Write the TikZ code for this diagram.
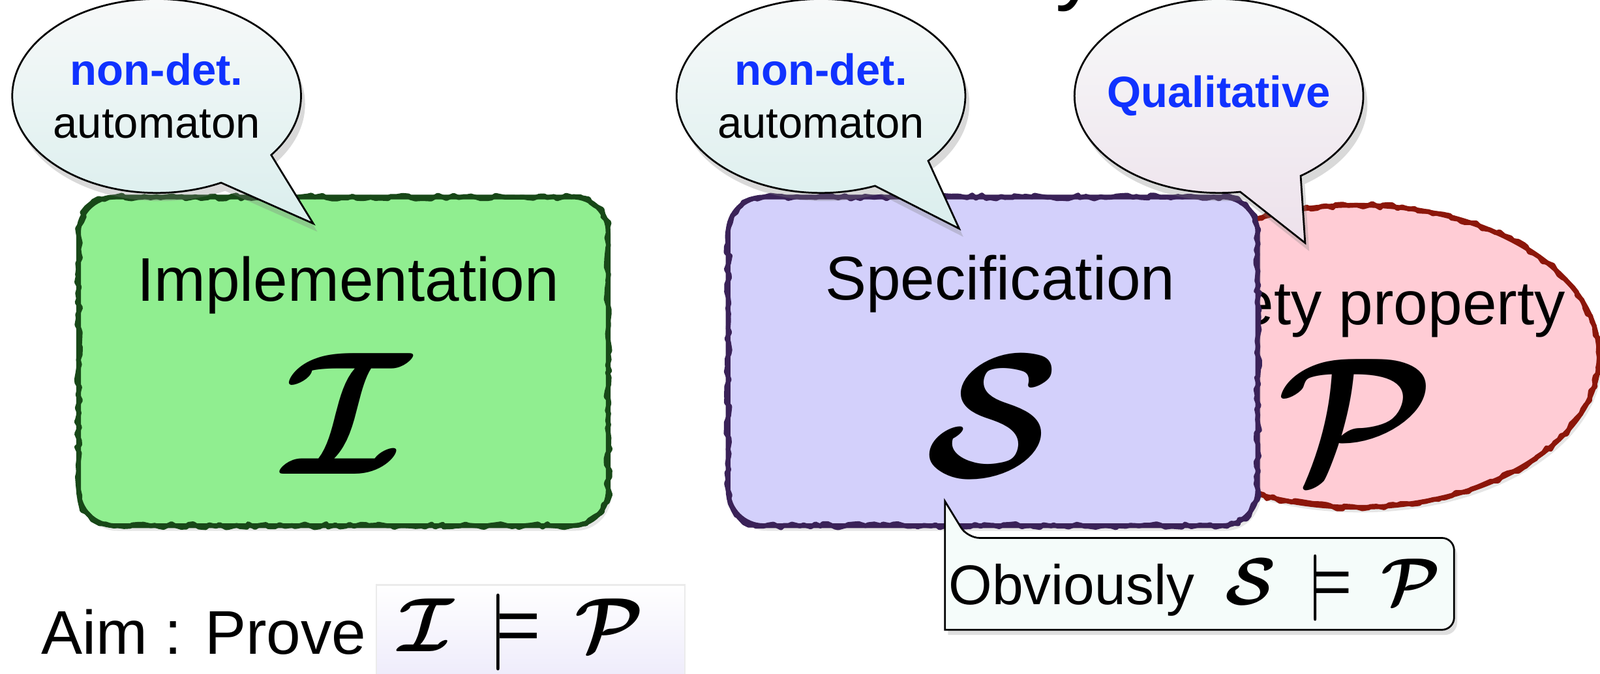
\documentclass[tikz,border=0pt]{standalone}
\usepackage{amsmath,amssymb}
\usepackage{graphicx}
\usepackage{fontspec}
\setmainfont{Liberation Sans}
\usepackage{tikz}
\usetikzlibrary{shapes.geometric,shapes.callouts,shadows,decorations.pathmorphing}
\newcommand{\bI}{\boldsymbol{\mathcal{I}}}
\newcommand{\bS}{\boldsymbol{\mathcal{S}}}
\newcommand{\bP}{\boldsymbol{\mathcal{P}}}
\definecolor{implgreen}{RGB}{144,238,144}
\definecolor{impldark}{RGB}{24,72,24}
\definecolor{speclav}{RGB}{211,208,251}
\definecolor{specdark}{RGB}{58,34,88}
\definecolor{proppink}{RGB}{255,204,213}
\definecolor{propdark}{RGB}{140,22,10}
\definecolor{noteblue}{RGB}{16,50,255}
\definecolor{bubtop}{RGB}{247,249,249}
\definecolor{bubcyan}{RGB}{218,238,237}
\definecolor{bubrose}{RGB}{237,225,235}
\definecolor{obvfill}{RGB}{245,252,250}
\definecolor{aimlav}{RGB}{235,232,250}

\begin{document}
\begin{tikzpicture}[
  rough/.style={line width=1.3pt,postaction={draw=#1,line width=1.3pt,sharp corners,line join=round,
    decorate,decoration={random steps,segment length=1.4pt,amplitude=0.6pt}}},
  bigbox/.style={rectangle,rounded corners=0.35cm,
    minimum width=5.19cm,minimum height=3.22cm,
    drop shadow={opacity=0.2,shadow xshift=0.03cm,shadow yshift=-0.05cm}},
  bubble/.style={ellipse callout,draw=black,line width=0.5pt,inner sep=0pt,inner xsep=-0.14cm,
    minimum width=2.83cm,minimum height=1.9cm,callout pointer arc=26,
    align=center,font=\fontsize{12.2}{14.8}\selectfont,
    drop shadow={opacity=0.3,shadow xshift=0.04cm,shadow yshift=-0.08cm}},
  boxtitle/.style={font=\fontsize{17.2}{20}\selectfont,anchor=base,inner sep=0pt},
  bigsym/.style={inner sep=0pt},
]
  \useasboundingbox (0,0) rectangle (15.68,6.60);
  % tail of the cut-off title
  \node[anchor=base west,inner sep=0pt,font=\fontsize{24}{28}\selectfont] (titletail) at (10.34,6.66) {y};

  % property P, partly hidden behind S
  \node[ellipse,fill=proppink,draw=propdark,rough=propdark,
    minimum width=4.74cm,minimum height=2.96cm,
    drop shadow={opacity=0.2,shadow xshift=0.03cm,shadow yshift=-0.05cm}] (prop) at (13.30,3.11) {};
  \node[boxtitle] (propname) at (13.29,3.42) {Safety property};
  \node[bigsym] (propsym) at (13.29,2.49) {\scalebox{4.9}{$\bP$}};

  % implementation I and specification S
  \node[bigbox,fill=implgreen,draw=impldark,rough=impldark] (impl) at (3.365,3.06) {};
  \node[boxtitle] (implname) at (3.41,3.65) {Implementation};
  \node[bigsym] (implsym) at (3.40,2.55) {\scalebox{4.9}{$\bI$}};
  \node[bigbox,fill=speclav,draw=specdark,rough=specdark] (spec) at (9.73,3.06) {};
  \node[boxtitle] (specname) at (9.80,3.66) {Specification};
  \node[bigsym] (specsym) at (9.73,2.52) {\scalebox{4.9}{$\bS$}};

  % speech bubbles
  \coordinate (impltip) at (3.07,4.41);
  \coordinate (spectip) at (9.40,4.36);
  \coordinate (proptip) at (12.79,4.22);
  \node[bubble,top color=bubtop,bottom color=bubcyan,callout absolute pointer={(impltip)}] (implnote) at (1.535,5.66)
    {\textcolor{noteblue}{\bfseries non-det.}\\automaton};
  \node[bubble,top color=bubtop,bottom color=bubcyan,callout absolute pointer={(spectip)}] (specnote) at (8.045,5.66)
    {\textcolor{noteblue}{\bfseries non-det.}\\automaton};
  \node[bubble,top color=bubtop,bottom color=bubrose,callout absolute pointer={(proptip)}] (propnote) at (11.945,5.66)
    {\textcolor{noteblue}{\bfseries Qualitative}};

  % remark under S
  \filldraw[fill=obvfill,draw=black,line width=0.5pt,
    drop shadow={opacity=0.25,shadow xshift=0.03cm,shadow yshift=-0.05cm}]
    (9.26,1.69) -- (9.26,0.43) [rounded corners=0.12cm] -- (14.25,0.43) -- (14.25,1.33)
    -- (9.48,1.33) [sharp corners] -- cycle;
  \node[anchor=base west,inner sep=0pt,font=\fontsize{15.6}{18}\selectfont] (obv) at (9.29,0.675)
    {Obviously~~\scalebox{1.85}{\normalsize$\bS\,\models\,\bP$}};

  % the aim
  \shade[top color=white,bottom color=aimlav,draw=black!8] (3.69,-0.2) rectangle (6.71,0.87);
  \node[boxtitle,anchor=base west] (aim) at (0.40,0.19) {Aim : Prove};
  \node[anchor=base,inner sep=0pt] (aimgoal) at (5.105,0.22) {\scalebox{2.14}{\normalsize$\bI\,\models\,\bP$}};
\end{tikzpicture}
\end{document}
